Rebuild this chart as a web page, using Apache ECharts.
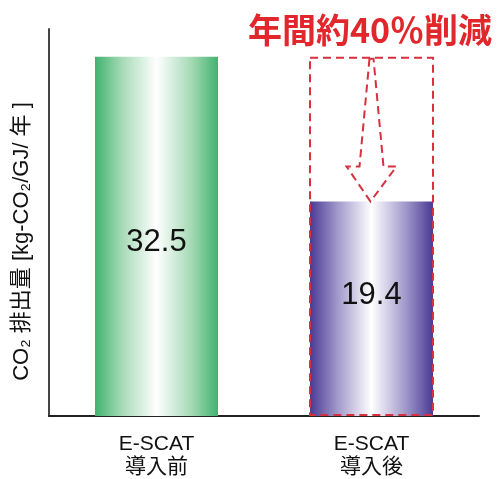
<!DOCTYPE html>
<html>
<head>
<meta charset="utf-8">
<script src="https://cdn.jsdelivr.net/npm/echarts@6/dist/echarts.min.js"></script>
<style>
html,body{margin:0;padding:0;background:#fff;}
#chart{width:498px;height:479px;}
</style>
</head>
<body>
<div id="chart"></div>
<script>
const categories = ['E-SCAT\n導入前', 'E-SCAT\n導入後'];
const values = [32.5, 19.4];
const valueLabels = ['32.5', '19.4'];
const titleText = '年間約40％削減';
const yAxisName = 'CO₂ 排出量 [kg-CO₂/GJ/ 年 ]';
const baselineIndex = 0;
const targetIndex = 1;

const FONT = '"Liberation Sans", "Noto Sans CJK JP", sans-serif';
const RED = '#d8303f';

function grad(edge, mid) {
  return new echarts.graphic.LinearGradient(0, 0, 1, 0, [
    {offset: 0, color: edge},
    {offset: 0.22, color: mid},
    {offset: 0.5, color: '#ffffff'},
    {offset: 0.78, color: mid},
    {offset: 1, color: edge}
  ]);
}
const fills = [grad('#40b36f', '#a6dab6'), grad('#4a3a94', '#a097ca')];
const labelOffsets = [[0, 6], [0, -13]];

const chart = echarts.init(document.getElementById('chart'));
const option = {
  animation: false,
  title: {
    text: titleText,
    left: 243, top: 8,
    textStyle: {fontFamily: '"Noto Sans CJK JP", sans-serif', fontSize: 34, fontWeight: 'bold', color: '#e1262c'}
  },
  grid: {left: 49, right: 19, top: 29, bottom: 60, containLabel: false},
  xAxis: {
    type: 'category',
    data: categories,
    axisLine: {lineStyle: {color: '#222', width: 2}},
    axisTick: {show: false},
    axisLabel: {fontFamily: FONT, fontSize: 21, lineHeight: 23, color: '#111', margin: 17}
  },
  yAxis: {
    type: 'value', min: 0, max: 35,
    name: yAxisName,
    nameLocation: 'middle',
    nameGap: 16,
    nameTextStyle: {fontFamily: FONT, fontSize: 22, color: '#111', padding: [0, 38, 0, 0]},
    axisLine: {show: true, lineStyle: {color: '#444', width: 2}},
    axisTick: {show: false},
    axisLabel: {show: false},
    splitLine: {show: false}
  },
  series: [
    {
      type: 'bar',
      barWidth: 123,
      data: values.map((v, i) => ({
        value: v,
        itemStyle: {color: fills[i]},
        label: {offset: labelOffsets[i]}
      })),
      label: {
        show: true, position: 'inside',
        formatter: p => valueLabels[p.dataIndex],
        fontFamily: FONT, fontSize: 31, color: '#111'
      },
      z: 2
    },
    {
      type: 'custom',
      z: 5,
      data: [[targetIndex, values[baselineIndex], values[targetIndex]]],
      renderItem: function (params, api) {
        const c = api.value(0);
        const top = api.coord([c, api.value(1)]);
        const bot = api.coord([c, 0]);
        const tip = api.coord([c, api.value(2)]);
        const w = 123;
        const cx = top[0];
        const hb = tip[1] - 35;
        const style = {fill: 'none', stroke: RED, lineWidth: 2, lineDash: [8, 5]};
        return {
          type: 'group',
          children: [
            {type: 'rect', shape: {x: cx - w / 2, y: top[1] + 1, width: w, height: bot[1] - top[1] - 2}, style: style},
            {type: 'polygon', shape: {points: [
              [cx - 2, top[1] + 2], [cx - 12, hb], [cx - 25, hb], [cx - 1, tip[1]],
              [cx + 25, hb], [cx + 12, hb], [cx + 2, top[1] + 2]
            ]}, style: style}
          ]
        };
      }
    }
  ]
};
chart.setOption(option);
</script>
</body>
</html>
